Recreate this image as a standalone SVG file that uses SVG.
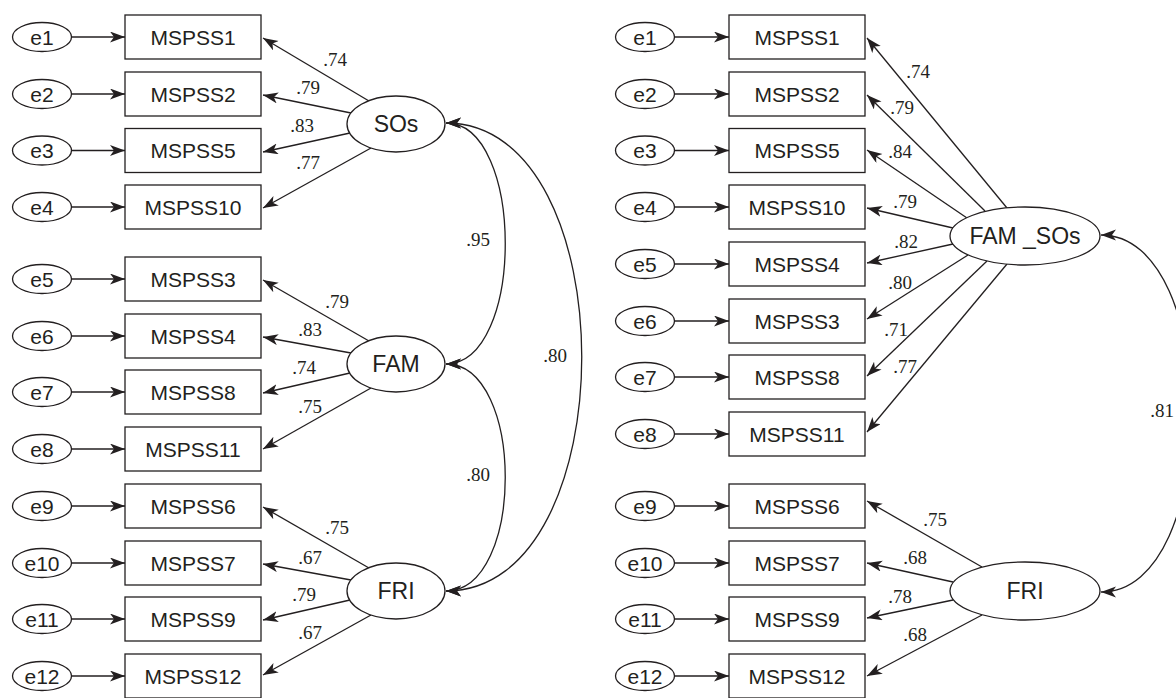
<svg xmlns="http://www.w3.org/2000/svg" width="1176" height="698" viewBox="0 0 1176 698">
<style>
.bg{fill:#ffffff}
.box{fill:#ffffff;stroke:#231f20;stroke-width:1.3}
.ell{fill:#ffffff;stroke:#231f20;stroke-width:1.3}
.lbl{font-family:"Liberation Sans",Arial,sans-serif;font-size:21px;fill:#231f20;text-anchor:middle}
.lat{font-family:"Liberation Sans",Arial,sans-serif;font-size:23px;fill:#231f20;text-anchor:middle}
.num{font-family:"Liberation Serif","Times New Roman",serif;font-size:19px;fill:#231f20;text-anchor:middle}
.arr{fill:none;stroke:#231f20;stroke-width:1.3;marker-end:url(#ah)}
.cov{fill:none;stroke:#231f20;stroke-width:1.3;marker-start:url(#ah);marker-end:url(#ah)}
</style>
<defs>
<marker id="ah" markerUnits="userSpaceOnUse" markerWidth="16" markerHeight="12" refX="15" refY="5.5" orient="auto-start-reverse">
<path d="M0,0 L15,5.5 L0,11 L4,5.5 Z" fill="#231f20"/>
</marker>
</defs>
<rect class="bg" x="0" y="0" width="1176" height="698"/>

<g id="connectors">
<!-- left: error arrows -->
<line class="arr" x1="72" y1="37" x2="125" y2="37"/>
<line class="arr" x1="72" y1="94" x2="125" y2="94"/>
<line class="arr" x1="72" y1="150.5" x2="125" y2="150.5"/>
<line class="arr" x1="72" y1="207" x2="125" y2="207"/>
<line class="arr" x1="72" y1="279" x2="125" y2="279"/>
<line class="arr" x1="72" y1="336" x2="125" y2="336"/>
<line class="arr" x1="72" y1="392" x2="125" y2="392"/>
<line class="arr" x1="72" y1="449" x2="125" y2="449"/>
<line class="arr" x1="72" y1="506" x2="125" y2="506"/>
<line class="arr" x1="72" y1="563" x2="125" y2="563"/>
<line class="arr" x1="72" y1="619" x2="125" y2="619"/>
<line class="arr" x1="72" y1="676" x2="125" y2="676"/>
<!-- left: loadings -->
<line class="arr" x1="369" y1="101" x2="263" y2="38"/>
<line class="arr" x1="351" y1="113" x2="263" y2="95"/>
<line class="arr" x1="350" y1="133" x2="263" y2="152"/>
<line class="arr" x1="371" y1="148" x2="263" y2="208"/>
<line class="arr" x1="369" y1="341" x2="263" y2="280"/>
<line class="arr" x1="351" y1="353" x2="263" y2="337"/>
<line class="arr" x1="350" y1="373" x2="263" y2="393"/>
<line class="arr" x1="371" y1="388" x2="263" y2="449"/>
<line class="arr" x1="369" y1="568" x2="263" y2="507"/>
<line class="arr" x1="351" y1="580" x2="263" y2="564"/>
<line class="arr" x1="350" y1="600" x2="263" y2="620"/>
<line class="arr" x1="371" y1="615" x2="263" y2="675"/>
<!-- left: covariances -->
<path class="cov" d="M446,123 C525,123 525,364 446,364"/>
<path class="cov" d="M446,364 C525,364 525,591 446,591"/>
<path class="cov" d="M446,123 C627,123 627,591 446,591"/>
<!-- right: error arrows -->
<line class="arr" x1="675" y1="37" x2="729" y2="37"/>
<line class="arr" x1="675" y1="94" x2="729" y2="94"/>
<line class="arr" x1="675" y1="150.5" x2="729" y2="150.5"/>
<line class="arr" x1="675" y1="207" x2="729" y2="207"/>
<line class="arr" x1="675" y1="264" x2="729" y2="264"/>
<line class="arr" x1="675" y1="321" x2="729" y2="321"/>
<line class="arr" x1="675" y1="377" x2="729" y2="377"/>
<line class="arr" x1="675" y1="434" x2="729" y2="434"/>
<line class="arr" x1="675" y1="506" x2="729" y2="506"/>
<line class="arr" x1="675" y1="563" x2="729" y2="563"/>
<line class="arr" x1="675" y1="619" x2="729" y2="619"/>
<line class="arr" x1="675" y1="676" x2="729" y2="676"/>
<!-- right: loadings -->
<line class="arr" x1="1007" y1="208" x2="867" y2="38"/>
<line class="arr" x1="985" y1="211" x2="867" y2="95"/>
<line class="arr" x1="967" y1="218" x2="867" y2="150"/>
<line class="arr" x1="953" y1="228" x2="867" y2="208"/>
<line class="arr" x1="953" y1="244" x2="867" y2="263"/>
<line class="arr" x1="968" y1="255" x2="867" y2="319"/>
<line class="arr" x1="987" y1="261" x2="867" y2="376"/>
<line class="arr" x1="1007" y1="264" x2="867" y2="432"/>
<line class="arr" x1="982" y1="567" x2="867" y2="501"/>
<line class="arr" x1="953" y1="582" x2="867" y2="563"/>
<line class="arr" x1="953" y1="600" x2="867" y2="618"/>
<line class="arr" x1="982" y1="615" x2="867" y2="676"/>
<!-- right: covariance -->
<path class="cov" d="M1101,235 C1222,235 1222,592 1101,592"/>
</g>

<g id="labels">
<text class="num" x="335" y="66">.74</text>
<text class="num" x="308" y="94">.79</text>
<text class="num" x="302" y="132">.83</text>
<text class="num" x="308" y="169">.77</text>
<text class="num" x="337" y="308">.79</text>
<text class="num" x="310" y="336">.83</text>
<text class="num" x="304" y="374">.74</text>
<text class="num" x="310" y="413">.75</text>
<text class="num" x="337" y="534">.75</text>
<text class="num" x="310" y="564">.67</text>
<text class="num" x="304" y="601">.79</text>
<text class="num" x="310" y="639">.67</text>
<text class="num" x="478" y="246">.95</text>
<text class="num" x="478" y="481">.80</text>
<text class="num" x="555" y="362">.80</text>
<text class="num" x="918" y="78">.74</text>
<text class="num" x="902" y="114">.79</text>
<text class="num" x="900" y="158">.84</text>
<text class="num" x="905" y="208">.79</text>
<text class="num" x="906" y="248">.82</text>
<text class="num" x="900" y="289">.80</text>
<text class="num" x="896" y="336">.71</text>
<text class="num" x="905" y="373">.77</text>
<text class="num" x="935" y="526">.75</text>
<text class="num" x="915" y="564">.68</text>
<text class="num" x="900" y="603">.78</text>
<text class="num" x="915" y="641">.68</text>
<text class="num" x="1162" y="417">.81</text>
</g>

<!-- left errors -->
<g id="L_e1"><ellipse class="ell" cx="42" cy="37" rx="29.5" ry="14.5"/><text class="lbl" x="42" y="44.5">e1</text></g>
<g id="L_e2"><ellipse class="ell" cx="42" cy="94" rx="29.5" ry="14.5"/><text class="lbl" x="42" y="101.5">e2</text></g>
<g id="L_e3"><ellipse class="ell" cx="42" cy="150.5" rx="29.5" ry="14.5"/><text class="lbl" x="42" y="158">e3</text></g>
<g id="L_e4"><ellipse class="ell" cx="42" cy="207" rx="29.5" ry="14.5"/><text class="lbl" x="42" y="214.5">e4</text></g>
<g id="L_e5"><ellipse class="ell" cx="42" cy="279" rx="29.5" ry="14.5"/><text class="lbl" x="42" y="286.5">e5</text></g>
<g id="L_e6"><ellipse class="ell" cx="42" cy="336" rx="29.5" ry="14.5"/><text class="lbl" x="42" y="343.5">e6</text></g>
<g id="L_e7"><ellipse class="ell" cx="42" cy="392" rx="29.5" ry="14.5"/><text class="lbl" x="42" y="399.5">e7</text></g>
<g id="L_e8"><ellipse class="ell" cx="42" cy="449" rx="29.5" ry="14.5"/><text class="lbl" x="42" y="456.5">e8</text></g>
<g id="L_e9"><ellipse class="ell" cx="42" cy="506" rx="29.5" ry="14.5"/><text class="lbl" x="42" y="513.5">e9</text></g>
<g id="L_e10"><ellipse class="ell" cx="42" cy="563" rx="29.5" ry="14.5"/><text class="lbl" x="42" y="570.5">e10</text></g>
<g id="L_e11"><ellipse class="ell" cx="42" cy="619" rx="29.5" ry="14.5"/><text class="lbl" x="42" y="626.5">e11</text></g>
<g id="L_e12"><ellipse class="ell" cx="42" cy="676" rx="29.5" ry="14.5"/><text class="lbl" x="42" y="683.5">e12</text></g>

<!-- left observed -->
<g id="L_MSPSS1"><rect class="box" x="125" y="15" width="136" height="44"/><text class="lbl" x="193" y="44.5">MSPSS1</text></g>
<g id="L_MSPSS2"><rect class="box" x="125" y="72" width="136" height="44"/><text class="lbl" x="193" y="101.5">MSPSS2</text></g>
<g id="L_MSPSS5"><rect class="box" x="125" y="128.5" width="136" height="44"/><text class="lbl" x="193" y="158">MSPSS5</text></g>
<g id="L_MSPSS10"><rect class="box" x="125" y="185" width="136" height="44"/><text class="lbl" x="193" y="214.5">MSPSS10</text></g>
<g id="L_MSPSS3"><rect class="box" x="125" y="257" width="136" height="44"/><text class="lbl" x="193" y="286.5">MSPSS3</text></g>
<g id="L_MSPSS4"><rect class="box" x="125" y="314" width="136" height="44"/><text class="lbl" x="193" y="343.5">MSPSS4</text></g>
<g id="L_MSPSS8"><rect class="box" x="125" y="370" width="136" height="44"/><text class="lbl" x="193" y="399.5">MSPSS8</text></g>
<g id="L_MSPSS11"><rect class="box" x="125" y="427" width="136" height="44"/><text class="lbl" x="193" y="456.5">MSPSS11</text></g>
<g id="L_MSPSS6"><rect class="box" x="125" y="484" width="136" height="44"/><text class="lbl" x="193" y="513.5">MSPSS6</text></g>
<g id="L_MSPSS7"><rect class="box" x="125" y="541" width="136" height="44"/><text class="lbl" x="193" y="570.5">MSPSS7</text></g>
<g id="L_MSPSS9"><rect class="box" x="125" y="597" width="136" height="44"/><text class="lbl" x="193" y="626.5">MSPSS9</text></g>
<g id="L_MSPSS12"><rect class="box" x="125" y="654" width="136" height="44"/><text class="lbl" x="193" y="683.5">MSPSS12</text></g>

<!-- left latent -->
<g id="L_SOs"><ellipse class="ell" cx="396" cy="124" rx="49" ry="28"/><text class="lat" x="396" y="132">SOs</text></g>
<g id="L_FAM"><ellipse class="ell" cx="396" cy="364" rx="49" ry="28"/><text class="lat" x="396" y="372">FAM</text></g>
<g id="L_FRI"><ellipse class="ell" cx="396" cy="591" rx="49" ry="28"/><text class="lat" x="396" y="599">FRI</text></g>

<!-- right errors -->
<g id="R_e1"><ellipse class="ell" cx="645" cy="37" rx="29.5" ry="14.5"/><text class="lbl" x="645" y="44.5">e1</text></g>
<g id="R_e2"><ellipse class="ell" cx="645" cy="94" rx="29.5" ry="14.5"/><text class="lbl" x="645" y="101.5">e2</text></g>
<g id="R_e3"><ellipse class="ell" cx="645" cy="150.5" rx="29.5" ry="14.5"/><text class="lbl" x="645" y="158">e3</text></g>
<g id="R_e4"><ellipse class="ell" cx="645" cy="207" rx="29.5" ry="14.5"/><text class="lbl" x="645" y="214.5">e4</text></g>
<g id="R_e5"><ellipse class="ell" cx="645" cy="264" rx="29.5" ry="14.5"/><text class="lbl" x="645" y="271.5">e5</text></g>
<g id="R_e6"><ellipse class="ell" cx="645" cy="321" rx="29.5" ry="14.5"/><text class="lbl" x="645" y="328.5">e6</text></g>
<g id="R_e7"><ellipse class="ell" cx="645" cy="377" rx="29.5" ry="14.5"/><text class="lbl" x="645" y="384.5">e7</text></g>
<g id="R_e8"><ellipse class="ell" cx="645" cy="434" rx="29.5" ry="14.5"/><text class="lbl" x="645" y="441.5">e8</text></g>
<g id="R_e9"><ellipse class="ell" cx="645" cy="506" rx="29.5" ry="14.5"/><text class="lbl" x="645" y="513.5">e9</text></g>
<g id="R_e10"><ellipse class="ell" cx="645" cy="563" rx="29.5" ry="14.5"/><text class="lbl" x="645" y="570.5">e10</text></g>
<g id="R_e11"><ellipse class="ell" cx="645" cy="619" rx="29.5" ry="14.5"/><text class="lbl" x="645" y="626.5">e11</text></g>
<g id="R_e12"><ellipse class="ell" cx="645" cy="676" rx="29.5" ry="14.5"/><text class="lbl" x="645" y="683.5">e12</text></g>

<!-- right observed -->
<g id="R_MSPSS1"><rect class="box" x="729" y="15" width="136" height="44"/><text class="lbl" x="797" y="44.5">MSPSS1</text></g>
<g id="R_MSPSS2"><rect class="box" x="729" y="72" width="136" height="44"/><text class="lbl" x="797" y="101.5">MSPSS2</text></g>
<g id="R_MSPSS5"><rect class="box" x="729" y="128.5" width="136" height="44"/><text class="lbl" x="797" y="158">MSPSS5</text></g>
<g id="R_MSPSS10"><rect class="box" x="729" y="185" width="136" height="44"/><text class="lbl" x="797" y="214.5">MSPSS10</text></g>
<g id="R_MSPSS4"><rect class="box" x="729" y="242" width="136" height="44"/><text class="lbl" x="797" y="271.5">MSPSS4</text></g>
<g id="R_MSPSS3"><rect class="box" x="729" y="299" width="136" height="44"/><text class="lbl" x="797" y="328.5">MSPSS3</text></g>
<g id="R_MSPSS8"><rect class="box" x="729" y="355" width="136" height="44"/><text class="lbl" x="797" y="384.5">MSPSS8</text></g>
<g id="R_MSPSS11"><rect class="box" x="729" y="412" width="136" height="44"/><text class="lbl" x="797" y="441.5">MSPSS11</text></g>
<g id="R_MSPSS6"><rect class="box" x="729" y="484" width="136" height="44"/><text class="lbl" x="797" y="513.5">MSPSS6</text></g>
<g id="R_MSPSS7"><rect class="box" x="729" y="541" width="136" height="44"/><text class="lbl" x="797" y="570.5">MSPSS7</text></g>
<g id="R_MSPSS9"><rect class="box" x="729" y="597" width="136" height="44"/><text class="lbl" x="797" y="626.5">MSPSS9</text></g>
<g id="R_MSPSS12"><rect class="box" x="729" y="654" width="136" height="44"/><text class="lbl" x="797" y="683.5">MSPSS12</text></g>

<!-- right latent -->
<g id="R_FAM_SOs"><ellipse class="ell" cx="1025" cy="236" rx="75" ry="29"/><text class="lat" x="1025" y="244">FAM _SOs</text></g>
<g id="R_FRI"><ellipse class="ell" cx="1025" cy="591" rx="75" ry="29"/><text class="lat" x="1025" y="599">FRI</text></g>
</svg>
